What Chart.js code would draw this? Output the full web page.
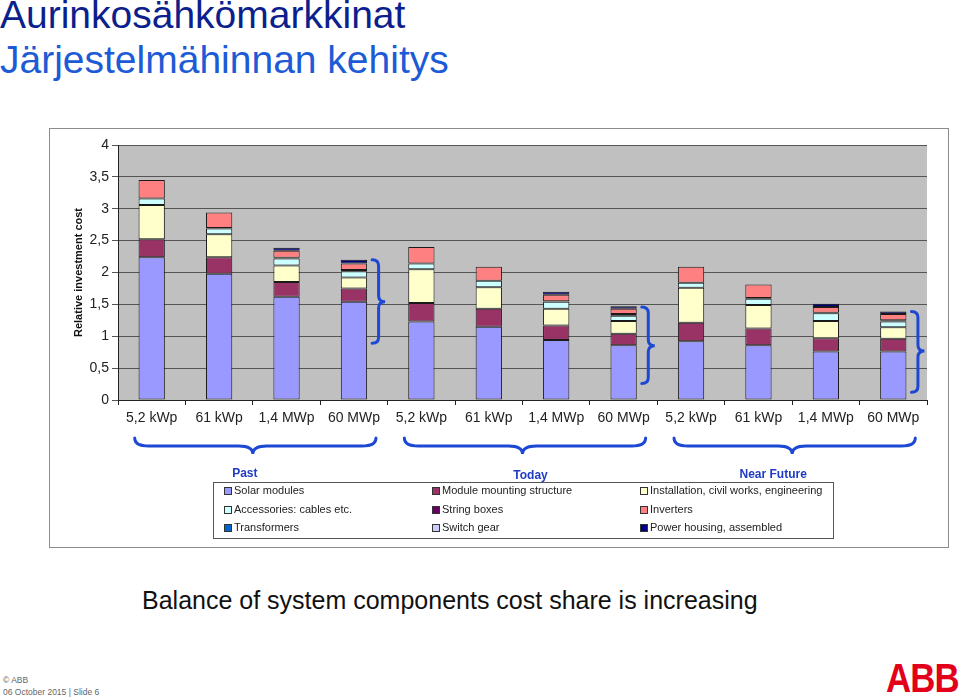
<!DOCTYPE html>
<html>
<head>
<meta charset="utf-8">
<script src="https://cdn.jsdelivr.net/npm/chart.js@4/dist/chart.umd.min.js"></script>
<style>
  body { margin: 0; width: 959px; height: 697px; overflow: hidden; background: #fff; font-family: "Liberation Sans", Arial, sans-serif; position: relative; }
  .t1 { position: absolute; left: 0; top: -7px; font-size: 39px; color: #0c1f8c; white-space: nowrap; }
  .t2 { position: absolute; left: 0; top: 38px; font-size: 39px; color: #1d5bd6; white-space: nowrap; }
  .frame { position: absolute; left: 49px; top: 128px; width: 898px; height: 418px; border: 1px solid #8c8c8c; background: #fff; }
  .caption { position: absolute; left: 142px; top: 586px; font-size: 25px; color: #111; white-space: nowrap; }
  .foot1 { position: absolute; left: 3px; top: 675px; font-size: 8.5px; color: #666; }
  .foot2 { position: absolute; left: 3px; top: 687px; font-size: 8.5px; color: #666; }
  .logo { position: absolute; left: 886px; top: 656px; font-size: 40px; font-weight: bold; color: #e2001a; transform: scaleX(0.87); transform-origin: left top; letter-spacing: -1px; }
</style>
</head>
<body>
<div class="t1">Aurinkosähkömarkkinat</div>
<div class="t2">Järjestelmähinnan kehitys</div>
<div class="frame"><canvas id="costChart" width="898" height="418"></canvas></div>
<div class="caption">Balance of system components cost share is increasing</div>
<div class="foot1">© ABB</div>
<div class="foot2">06 October 2015 | Slide 6</div>
<div class="logo">ABB</div>

<script>
// categories and groups
const categories = ['5,2 kWp', '61 kWp', '1,4 MWp', '60 MWp',
                    '5,2 kWp', '61 kWp', '1,4 MWp', '60 MWp',
                    '5,2 kWp', '61 kWp', '1,4 MWp', '60 MWp'];
const groups = ['Past', 'Today', 'Near Future'];

// series values (relative investment cost)
const solarModules   = [2.24, 1.98, 1.62, 1.54, 1.23, 1.15, 0.94, 0.86, 0.92, 0.86, 0.76, 0.76];
const mounting       = [0.28, 0.26, 0.23, 0.21, 0.29, 0.28, 0.23, 0.18, 0.29, 0.26, 0.21, 0.20];
const installation   = [0.54, 0.36, 0.26, 0.17, 0.53, 0.34, 0.26, 0.20, 0.55, 0.37, 0.27, 0.18];
const accessories    = [0.10, 0.09, 0.11, 0.10, 0.09, 0.10, 0.11, 0.08, 0.08, 0.10, 0.12, 0.09];
const stringBoxes    = [0, 0.01, 0.01, 0.02, 0, 0, 0.01, 0.03, 0, 0.01, 0.01, 0.02];
const inverters      = [0.29, 0.24, 0.11, 0.10, 0.26, 0.22, 0.10, 0.08, 0.25, 0.21, 0.09, 0.10];
const transformers   = [0, 0, 0, 0, 0, 0, 0, 0, 0, 0, 0, 0];
const switchGear     = [0, 0, 0, 0, 0, 0, 0, 0, 0, 0, 0, 0];
const powerHousing   = [0, 0, 0.05, 0.06, 0, 0, 0.05, 0.04, 0, 0, 0.05, 0.04];

const seriesNames = ['Solar modules', 'Module mounting structure', 'Installation, civil works, engineering',
                     'Accessories: cables etc.', 'String boxes', 'Inverters',
                     'Transformers', 'Switch gear', 'Power housing, assembled'];
const seriesData = [solarModules, mounting, installation, accessories, stringBoxes, inverters,
                    transformers, switchGear, powerHousing];
const seriesColors = ['#9999ff', '#993366', '#ffffcc', '#ccffff', '#660066', '#ff8080',
                      '#0066cc', '#ccccff', '#000080'];

// y tick labels
const yTicks = ['0', '0,5', '1', '1,5', '2', '2,5', '3', '3,5', '4'];

// blue braces beside the 60 MWp bars: [top, middle, bottom] in cost units
const braceBars   = [3, 7, 11];
const braceTop    = [2.20, 1.46, 1.39];
const braceMid    = [1.54, 0.85, 0.77];
const braceBottom = [0.89, 0.26, 0.12];

const BLUE = '#1c48d4';

function vBrace(ctx, x, y1, ym, y2, w) {
    const q = 6;
    ctx.beginPath();
    ctx.moveTo(x, y1);
    ctx.quadraticCurveTo(x + w / 2, y1, x + w / 2, y1 + q);
    ctx.lineTo(x + w / 2, ym - q);
    ctx.quadraticCurveTo(x + w / 2, ym, x + w, ym);
    ctx.quadraticCurveTo(x + w / 2, ym, x + w / 2, ym + q);
    ctx.lineTo(x + w / 2, y2 - q);
    ctx.quadraticCurveTo(x + w / 2, y2, x, y2);
    ctx.stroke();
}

function hBrace(ctx, x1, xm, x2, y, h) {
    const q = 14;
    ctx.beginPath();
    ctx.moveTo(x1, y);
    ctx.quadraticCurveTo(x1, y + h / 2, x1 + q, y + h / 2);
    ctx.lineTo(xm - q, y + h / 2);
    ctx.quadraticCurveTo(xm, y + h / 2, xm, y + h);
    ctx.quadraticCurveTo(xm, y + h / 2, xm + q, y + h / 2);
    ctx.lineTo(x2 - q, y + h / 2);
    ctx.quadraticCurveTo(x2, y + h / 2, x2, y);
    ctx.stroke();
}

const plotBackground = {
    id: 'plotBackground',
    beforeDraw(chart) {
        const {ctx, chartArea} = chart;
        ctx.save();
        ctx.fillStyle = '#c0c0c0';
        ctx.fillRect(chartArea.left, chartArea.top, chartArea.right - chartArea.left, chartArea.bottom - chartArea.top);
        ctx.restore();
    }
};

const annotations = {
    id: 'annotations',
    afterDraw(chart) {
        const ctx = chart.ctx;
        const x = chart.scales.x, y = chart.scales.y;
        const meta = chart.getDatasetMeta(0);
        ctx.save();
        ctx.strokeStyle = BLUE;
        ctx.lineWidth = 3;
        ctx.lineCap = 'round';

        // braces beside bars
        braceBars.forEach((idx, i) => {
            const bar = meta.data[idx];
            const bx = bar.x + bar.width / 2 + 5;
            vBrace(ctx, bx, y.getPixelForValue(braceTop[i]), y.getPixelForValue(braceMid[i]),
                   y.getPixelForValue(braceBottom[i]), 13);
        });

        // group braces and labels
        const labelShift = [-8, 8, -19];
        const labelDy = [0, 2, 1];
        groups.forEach((g, gi) => {
            const first = gi * 4, last = gi * 4 + 3;
            const x1 = x.getPixelForValue(first) - 17;
            const x2 = x.getPixelForValue(last) + 22;
            const xm = (x.getPixelForValue(first + 1) + x.getPixelForValue(first + 2)) / 2;
            ctx.strokeStyle = BLUE;
            hBrace(ctx, x1, xm, x2, 309, 16);
            ctx.fillStyle = '#1f3bc4';
            ctx.font = 'bold 12px "Liberation Sans", Arial, sans-serif';
            ctx.textAlign = 'center';
            ctx.textBaseline = 'middle';
            ctx.fillText(g, xm + labelShift[gi], 345 + labelDy[gi]);
        });

        // legend box
        ctx.strokeStyle = '#555';
        ctx.lineWidth = 1;
        ctx.strokeRect(163.5, 353.5, 620, 56);
        const colX = [174, 382, 590];
        const rowY = [362, 381, 399];
        ctx.font = '11px "Liberation Sans", Arial, sans-serif';
        ctx.textAlign = 'left';
        ctx.textBaseline = 'middle';
        chart.data.datasets.forEach((ds, i) => {
            const cx = colX[i % 3], cy = rowY[Math.floor(i / 3)];
            ctx.fillStyle = ds.backgroundColor;
            ctx.fillRect(cx, cy - 4, 7, 7);
            ctx.strokeStyle = '#333';
            ctx.strokeRect(cx + 0.5, cy - 3.5, 7, 7);
            ctx.fillStyle = '#222';
            ctx.fillText(ds.label, cx + 10, cy);
        });
        ctx.restore();
    }
};

const datasets = seriesNames.map((name, i) => ({
    label: name,
    data: seriesData[i].map(v => v === 0 ? null : v),
    backgroundColor: seriesColors[i],
    borderColor: '#1a1a1a',
    borderWidth: 1,
    borderSkipped: false,
    barPercentage: 0.39,
    categoryPercentage: 1
}));

new Chart(document.getElementById('costChart'), {
    type: 'bar',
    data: { labels: categories, datasets: datasets },
    options: {
        responsive: false,
        animation: false,
        devicePixelRatio: 1,
        layout: { padding: { left: 0, top: 16, right: 21, bottom: 0 } },
        plugins: {
            legend: { display: false },
            tooltip: { enabled: false }
        },
        scales: {
            x: {
                stacked: true,
                afterFit: (scale) => { scale.height = 147; },
                grid: { drawOnChartArea: false, offset: true, color: '#222', tickLength: 5 },
                border: { color: '#222', width: 1 },
                ticks: {
                    color: '#222',
                    padding: 5,
                    maxRotation: 0,
                    autoSkip: false,
                    font: { family: '"Liberation Sans", Arial, sans-serif', size: 14 }
                }
            },
            y: {
                stacked: true,
                min: 0,
                max: 4,
                afterFit: (scale) => { scale.width = 68; },
                grid: { color: '#555', lineWidth: 1, tickLength: 6 },
                border: { color: '#222', width: 1 },
                ticks: {
                    stepSize: 0.5,
                    color: '#222',
                    padding: 3,
                    font: { family: '"Liberation Sans", Arial, sans-serif', size: 14 },
                    callback: (v) => yTicks[Math.round(v * 2)]
                },
                title: {
                    display: true,
                    text: 'Relative investment cost',
                    color: '#111',
                    padding: { top: 22, bottom: 0 },
                    font: { family: '"Liberation Sans", Arial, sans-serif', size: 11, weight: 'bold' }
                }
            }
        }
    },
    plugins: [plotBackground, annotations]
});
</script>
</body>
</html>
